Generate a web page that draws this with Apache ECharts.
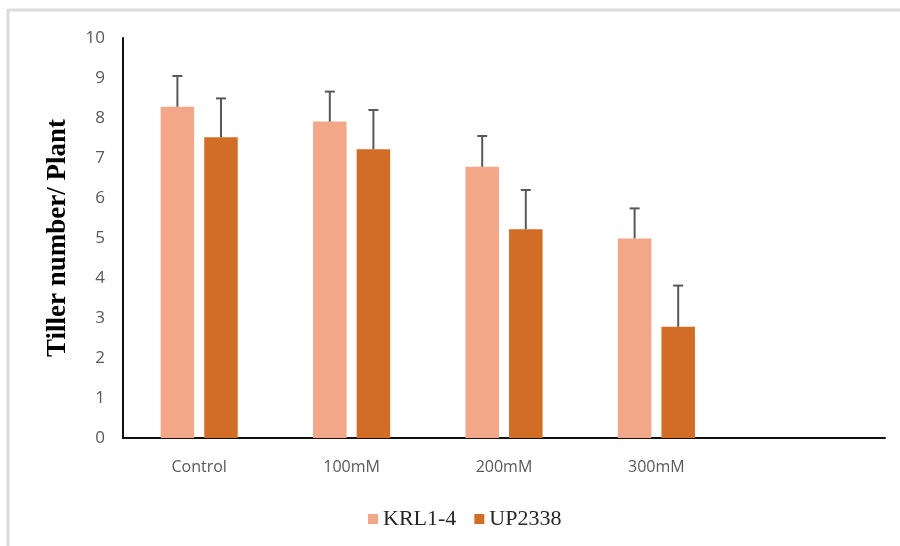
<!DOCTYPE html>
<html>
<head>
<meta charset="utf-8">
<script src="https://cdn.jsdelivr.net/npm/echarts@6/dist/echarts.min.js"></script>
<style>
html,body{margin:0;padding:0;background:#fff;}
#chart{width:900px;height:546px;}
</style>
</head>
<body>
<div id="chart"></div>
<script>
var categories = ['Control', '100mM', '200mM', '300mM', ''];
var seriesNames = ['KRL1-4', 'UP2338'];
var krlMean = [8.28, 7.91, 6.78, 4.99];
var krlErr = [0.77, 0.75, 0.77, 0.75];
var upMean = [7.52, 7.22, 5.22, 2.78];
var upErr = [0.97, 0.98, 0.98, 1.03];
var yTicks = [0, 1, 2, 3, 4, 5, 6, 7, 8, 9, 10];

var colors = ['#F1A788', '#D26D28'];
var BAR_W = 0.22, GAP = 0.3;
var offsetFrac = (BAR_W * (1 + GAP)) / 2;

function errData(mean, err) {
  return mean.map(function (m, i) { return [i, m, m + err[i]]; });
}
function errSeries(mean, err, sign) {
  return {
    type: 'custom',
    data: errData(mean, err),
    z: 5,
    silent: true,
    renderItem: function (params, api) {
      var band = api.size([1, 0])[0];
      var p0 = api.coord([api.value(0), api.value(1)]);
      var p1 = api.coord([api.value(0), api.value(2)]);
      var x = p0[0] + sign * offsetFrac * band;
      var cap = 5;
      var st = { stroke: '#595959', lineWidth: 2 };
      return {
        type: 'group',
        children: [
          { type: 'line', shape: { x1: x, y1: p0[1], x2: x, y2: p1[1] }, style: st },
          { type: 'line', shape: { x1: x - cap, y1: p1[1], x2: x + cap, y2: p1[1] }, style: st }
        ]
      };
    }
  };
}

var chart = echarts.init(document.getElementById('chart'));
chart.setOption({
  animation: false,
  backgroundColor: '#fff',
  graphic: [
    { type: 'line', shape: { x1: 7, y1: 10, x2: 900, y2: 10 }, style: { stroke: '#dcdcdc', lineWidth: 3 } },
    { type: 'line', shape: { x1: 8, y1: 9, x2: 8, y2: 546 }, style: { stroke: '#dcdcdc', lineWidth: 3 } }
  ],
  grid: { left: 123, right: 15, top: 38, bottom: 108, containLabel: false },
  legend: {
    data: seriesNames,
    top: 503,
    left: 363,
    icon: 'rect',
    itemWidth: 10,
    itemHeight: 10,
    itemGap: 18,
    textStyle: { fontFamily: 'Liberation Serif', fontSize: 22, color: '#262626' }
  },
  xAxis: {
    type: 'category',
    data: categories,
    axisLine: { lineStyle: { color: '#111', width: 2 } },
    axisTick: { show: false },
    axisLabel: { color: '#595959', fontSize: 16, fontFamily: 'Open Sans', margin: 21 }
  },
  yAxis: {
    type: 'value',
    min: yTicks[0],
    max: yTicks[yTicks.length - 1],
    interval: 1,
    name: 'Tiller number/ Plant',
    nameLocation: 'middle',
    nameGap: 51,
    nameTextStyle: { fontFamily: 'Liberation Serif', fontWeight: 'bold', fontSize: 27, color: '#000' },
    axisLine: { show: true, lineStyle: { color: '#111', width: 2 } },
    axisTick: { show: false },
    splitLine: { show: false },
    axisLabel: { color: '#595959', fontSize: 17, fontFamily: 'Open Sans', margin: 18 }
  },
  series: [
    { name: seriesNames[0], type: 'bar', data: krlMean, barWidth: (BAR_W * 100) + '%', barGap: (GAP * 100) + '%', itemStyle: { color: colors[0] } },
    { name: seriesNames[1], type: 'bar', data: upMean, barWidth: (BAR_W * 100) + '%', barGap: (GAP * 100) + '%', itemStyle: { color: colors[1] } },
    errSeries(krlMean, krlErr, -1),
    errSeries(upMean, upErr, 1)
  ]
});
</script>
</body>
</html>
